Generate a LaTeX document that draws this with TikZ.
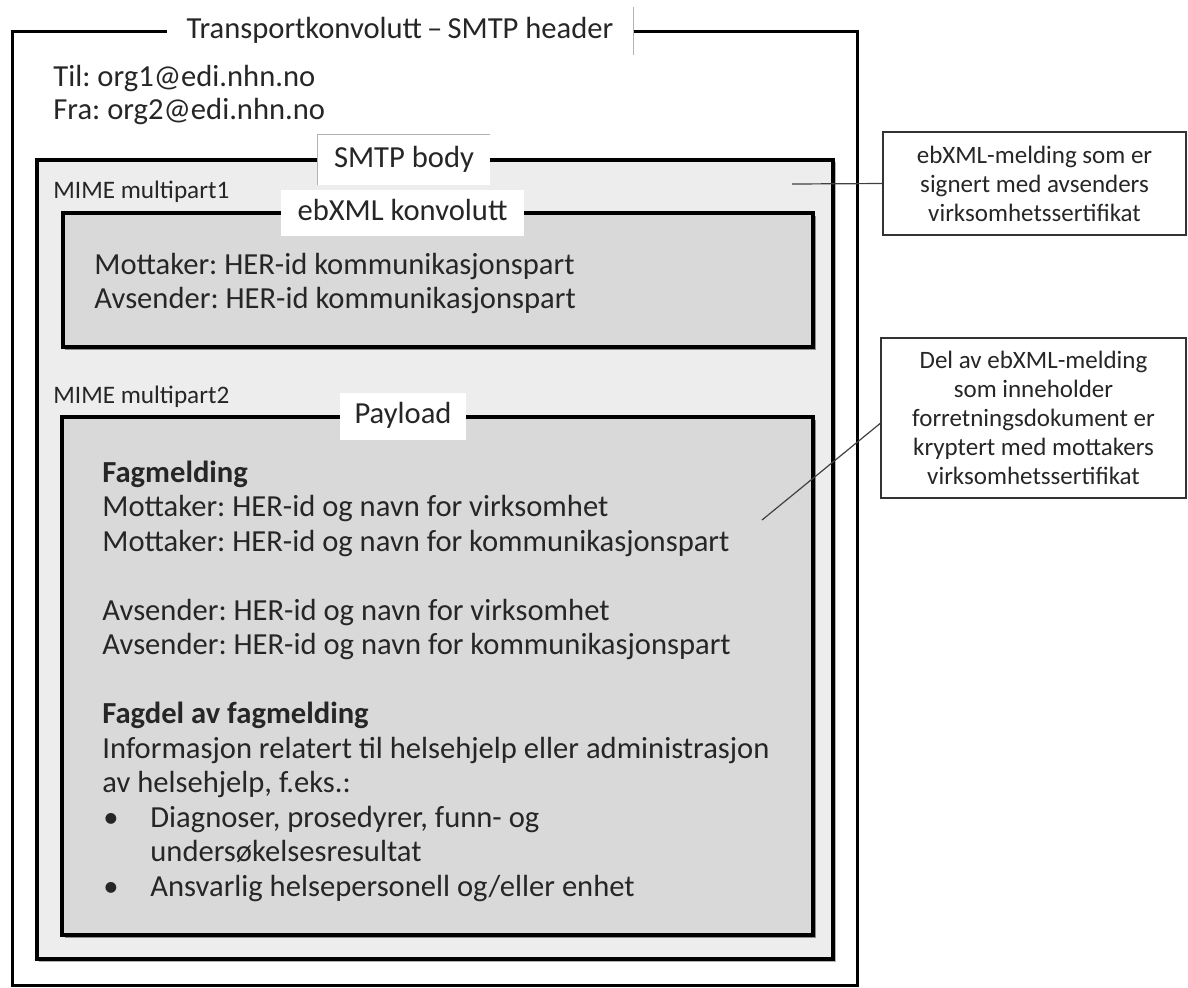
\documentclass[tikz,border=0pt]{standalone}
\usepackage{fontspec}
\setmainfont{Carlito}
\frenchspacing
\definecolor{smtpfill}{HTML}{EDEDED}
\definecolor{innerfill}{HTML}{D9D9D9}
\definecolor{txt}{HTML}{262626}
\tikzset{
  maintxt/.style={anchor=base west, inner sep=0pt, font=\fontsize{15.3}{18}\selectfont, text=txt},
  boldtxt/.style={maintxt, font=\fontsize{15.3}{18}\selectfont\bfseries},
  smalltxt/.style={anchor=base west, inner sep=0pt, font=\fontsize{12.6}{14}\selectfont, text=txt},
  labelbox/.style={fill=white, inner sep=0pt, text height=10pt, text depth=3pt, font=\fontsize{15.3}{18}\selectfont, text=txt},
  annot/.style={draw=black!80, line width=0.75pt, fill=white, align=center, inner sep=0pt, font=\fontsize{12.5}{14.5}\selectfont, text=txt},
  outerline/.style={draw=black, line width=1.5pt},
  bodybox/.style={draw=black, line width=2pt, fill=smtpfill},
  innerbox/.style={draw=black, line width=2pt, fill=innerfill},
  connector/.style={draw=black!75, line width=0.6pt},
  faint/.style={draw=black!30, line width=0.6pt}
}
\begin{document}
\begin{tikzpicture}[x=0.5pt,y=-0.5pt]
\useasboundingbox (0,0) rectangle (1188,987);
% outer transport envelope
\draw[outerline] (12,31) rectangle (857,985);
\node[labelbox, minimum width=233pt, minimum height=24pt] (title) at (400,31) {Transportkonvolutt\,–\,SMTP header};
\draw[faint] (title.north east) -- (title.south east);
\node[maintxt] (til) at (53,86) {Til: org1@edi.nhn.no};
\node[maintxt] (fra) at (53,119) {Fra: org2@edi.nhn.no};
% SMTP body
\fill[black!30] (39,162) rectangle (836,962);
\draw[bodybox] (37,160) rectangle (833,959);
\node[labelbox, minimum width=86pt, minimum height=25pt] (smtp) at (404,160) {SMTP body};
\draw[faint] (smtp.south west) -- (smtp.north west) -- (smtp.north east);
\node[smalltxt] (mime1) at (53,198) {MIME multipart1};
% ebXML envelope
\fill[black!45] (65,216) rectangle (816,350);
\draw[innerbox] (63,213) rectangle (813,347);
\node[labelbox, minimum width=121.5pt, minimum height=23pt] (ebxml) at (402.5,213) {ebXML konvolutt};
\node[maintxt] (mott1) at (94,274) {Mottaker: HER-id kommunikasjonspart};
\node[maintxt] (avs1) at (94,308) {Avsender: HER-id kommunikasjonspart};
\node[smalltxt] (mime2) at (53,403) {MIME multipart2};
% Payload
\fill[black!45] (65,420) rectangle (816,938);
\draw[innerbox] (62,417) rectangle (813,935);
\node[labelbox, minimum width=63pt, minimum height=23.5pt] (payload) at (403,416.5) {Payload};
\node[boldtxt] (fag) at (102,482) {Fagmelding};
\node[maintxt] (pm1) at (102,516.5) {Mottaker: HER-id og navn for virksomhet};
\node[maintxt] (pm2) at (102,551) {Mottaker: HER-id og navn for kommunikasjonspart};
\node[maintxt] (pa1) at (102,620) {Avsender: HER-id og navn for virksomhet};
\node[maintxt] (pa2) at (102,654.5) {Avsender: HER-id og navn for kommunikasjonspart};
\node[boldtxt] (fagdel) at (102,723.5) {Fagdel av fagmelding};
\node[maintxt] (info1) at (102,758) {Informasjon relatert til helsehjelp eller administrasjon};
\node[maintxt] (info2) at (102,792.5) {av helsehjelp, f.eks.:};
\node[maintxt] (b1) at (103,827) {•};
\node[maintxt] (b1t) at (150,827) {Diagnoser, prosedyrer, funn- og};
\node[maintxt] (b1t2) at (150,861.5) {undersøkelsesresultat};
\node[maintxt] (b2) at (103,896) {•};
\node[maintxt] (b2t) at (150,896) {Ansvarlig helsepersonell og/eller enhet};
% annotations
\node[annot, minimum width=151.5pt, minimum height=51.5pt] (ann1) at (1034.5,183.5)
  {ebXML-melding som er\\signert med avsenders\\virksomhetssertifikat};
\node[annot, minimum width=152.5pt, minimum height=80pt] (ann2) at (1033.5,418)
  {Del av ebXML-melding\\som inneholder\\forretningsdokument er\\kryptert med mottakers\\virksomhetssertifikat};
\coordinate (c1) at (792,184);
\coordinate (c2) at (762,520);
\draw[connector] (c1) -- (ann1.west);
\draw[connector] (c2) -- (ann2.182);
\end{tikzpicture}
\end{document}
